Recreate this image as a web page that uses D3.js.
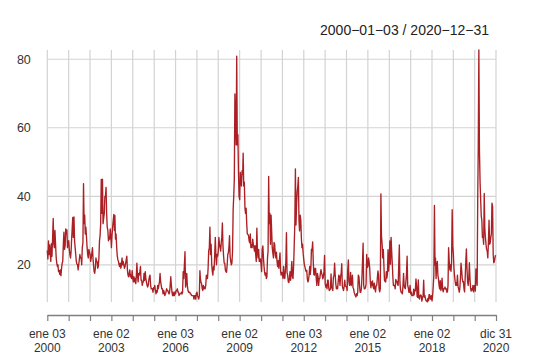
<!DOCTYPE html>
<html>
<head>
<meta charset="utf-8">
<script src="https://cdn.jsdelivr.net/npm/d3@7"></script>
<style>
  body { margin: 0; background: #fff; }
  text { font-family: "Liberation Sans", Arial, sans-serif; }
</style>
</head>
<body>
<script>
// VIX close, three readings per month (early / mid / late)
const vix2000 = [24.2,21.7,27.0, 23.0,25.8,23.1, 21.0,26.2,22.5, 28.0,33.5,26.2, 25.0,30.0,26.1, 22.0,20.5,19.5, 20.0,18.0,18.3, 17.2,18.5,16.8, 19.0,20.5,21.0, 26.0,29.5,24.5, 25.5,30.5,29.0, 30.2,25.0,26.8];
const vix2001 = [27.0,24.5,23.0, 22.0,24.0,28.0, 30.5,33.8,28.0, 34.0,27.0,25.0, 23.0,21.0,20.2, 20.0,18.5,20.0, 21.5,23.0,22.0, 22.0,20.0,25.0, 26.5,43.7,32.0, 34.5,29.0,31.0, 28.0,25.0,23.0, 22.0,24.5,23.8];
const vix2002 = [23.0,21.0,22.0, 23.5,25.0,21.5, 20.0,18.0,17.5, 19.0,22.0,21.0, 21.0,19.0,19.5, 22.0,27.0,28.5, 32.0,44.9,35.0, 45.0,32.0,33.5, 35.0,40.0,40.0, 42.6,35.0,31.0, 30.0,27.0,28.0, 27.5,30.5,28.6];
const vix2003 = [25.0,28.5,31.0, 33.0,34.7,30.0, 34.4,27.5,29.0, 25.0,22.5,21.5, 21.0,20.0,19.5, 20.5,19.0,20.0, 22.0,20.0,21.0, 20.0,19.0,19.5, 20.5,21.5,22.5, 18.5,17.0,16.5, 17.5,18.5,16.5, 17.0,16.0,18.3];
const vix2004 = [16.0,15.0,16.5, 15.0,16.0,14.5, 16.5,20.5,17.0, 15.0,17.5,17.0, 18.0,19.5,15.5, 15.5,14.0,15.0, 15.0,17.5,15.5, 18.0,16.0,15.0, 14.0,13.5,14.0, 15.5,16.5,17.0, 14.0,13.0,13.0, 13.0,12.0,13.3];
const vix2005 = [13.0,14.0,12.5, 11.5,12.5,12.0, 14.0,13.0,14.0, 15.0,17.5,15.0, 14.0,13.0,13.0, 11.5,12.5,12.0, 11.0,11.5,12.0, 13.0,12.5,12.5, 12.0,11.5,12.0, 14.0,16.5,14.0, 12.0,11.0,12.0, 11.0,11.0,12.1];
const vix2006 = [11.5,12.5,12.5, 13.0,12.0,12.0, 11.0,11.5,11.5, 11.5,12.0,11.5, 12.0,18.0,16.0, 20.0,23.8,13.5, 15.0,17.5,14.0, 12.5,12.0,12.0, 12.0,11.5,11.5, 11.0,11.0,11.0, 11.0,10.0,11.0, 11.0,10.0,11.6];
const vix2007 = [12.0,11.0,10.5, 10.0,11.0,18.3, 16.0,15.0,14.5, 13.0,12.5,14.0, 13.0,13.5,13.0, 14.0,17.0,16.0, 16.0,19.0,24.0, 25.0,31.0,23.0, 26.0,20.0,18.0, 17.0,19.5,18.5, 23.0,28.0,23.0, 20.0,23.0,22.5];
const vix2008 = [24.0,28.0,26.0, 25.0,24.0,26.5, 28.0,32.2,25.5, 22.5,20.5,20.5, 18.5,18.0,17.8, 20.0,23.0,23.5, 25.0,28.5,22.5, 21.0,20.0,20.5, 24.0,36.0,40.0, 45.0,69.9,62.0, 55.0,80.9,55.0, 58.0,47.0,40.0];
const vix2009 = [39.0,47.0,44.8, 43.0,47.5,46.4, 52.6,43.0,44.1, 36.5,35.0,36.5, 32.0,29.0,28.9, 28.5,27.0,26.4, 29.0,25.0,25.9, 25.0,27.5,26.0, 25.0,24.0,25.6, 23.0,21.0,30.7, 23.5,22.0,24.5, 21.0,21.0,21.7];
const vix2010 = [20.0,18.0,24.6, 25.5,22.0,19.5, 18.0,17.0,17.6, 16.0,16.5,22.0, 24.0,45.8,32.0, 35.0,26.0,34.5, 30.0,25.0,23.5, 22.0,26.5,26.1, 23.0,22.0,23.7, 21.0,19.5,21.2, 19.0,21.5,23.5, 18.0,17.0,17.8];
const vix2011 = [17.5,16.0,19.5, 16.5,16.0,18.4, 21.0,29.4,17.7, 17.0,15.0,14.8, 16.0,18.0,15.5, 18.0,21.0,16.5, 16.0,19.5,25.3, 32.0,48.0,31.6, 38.0,41.3,42.9, 45.5,33.0,29.9, 34.5,33.0,27.8, 25.0,26.0,23.4];
const vix2012 = [21.5,20.0,19.4, 18.5,18.0,18.4, 16.0,15.0,15.5, 17.0,19.5,17.2, 19.0,24.5,24.1, 26.7,21.0,17.1, 17.0,19.0,18.9, 16.0,14.0,17.5, 16.5,14.0,16.0, 16.0,17.5,18.6, 17.5,17.0,15.9, 16.5,18.0,22.7];
const vix2013 = [14.5,13.5,14.3, 13.0,15.5,15.5, 13.5,12.5,12.7, 13.0,17.3,13.5, 13.0,12.5,16.3, 17.0,20.5,16.9, 14.5,13.0,13.5, 13.0,15.0,17.0, 16.5,14.0,16.6, 17.5,20.3,13.8, 13.0,12.5,13.7, 15.5,13.8,13.7];
const vix2014 = [13.5,12.5,18.4, 21.4,15.0,14.0, 14.5,17.8,13.9, 15.0,17.0,13.4, 13.0,12.0,11.4, 11.0,10.6,11.6, 11.0,12.0,17.0, 16.5,14.0,12.0, 12.0,13.0,16.3, 21.0,26.3,14.0, 13.0,13.0,13.3, 14.5,23.0,19.2];
const vix2015 = [19.5,22.0,21.0, 19.0,15.0,13.3, 15.0,14.0,15.3, 13.5,13.0,14.6, 13.0,12.1,13.8, 14.0,16.0,18.2, 17.0,13.0,12.1, 13.0,40.7,28.4, 26.0,22.0,24.5, 20.0,15.5,15.1, 15.0,18.0,16.1, 17.5,24.4,18.2];
const vix2016 = [21.0,27.0,20.2, 28.0,24.0,20.6, 17.0,14.0,13.9, 14.0,13.0,15.7, 15.0,15.2,14.2, 14.0,20.0,25.8, 15.0,12.8,12.0, 12.0,11.5,13.4, 17.5,14.0,13.3, 13.0,15.0,17.1, 22.5,14.0,13.3, 12.0,12.0,14.0];
const vix2017 = [11.5,12.0,11.0, 11.0,11.0,12.9, 11.2,12.5,12.4, 15.9,14.0,10.8, 10.5,15.6,10.4, 10.0,11.0,11.2, 11.0,9.4,10.3, 11.0,15.5,10.6, 11.0,10.0,9.5, 9.5,9.14,10.2, 9.5,11.3,11.3, 10.0,10.0,11.0];
const vix2018 = [9.5,11.0,13.5, 17.0,37.3,19.9, 22.0,16.0,19.9, 21.0,17.0,15.9, 14.0,13.0,15.4, 12.5,13.5,16.1, 13.0,12.1,13.0, 13.0,13.5,12.9, 13.0,12.0,12.1, 14.0,25.0,21.2, 18.5,20.0,18.1, 21.0,36.1,25.4];
const vix2019 = [23.0,19.0,16.6, 15.0,14.0,14.8, 14.0,17.0,13.7, 13.0,12.0,13.1, 16.0,20.5,18.7, 16.0,15.0,15.1, 13.0,12.1,16.1, 21.0,24.6,19.0, 15.0,14.0,16.2, 20.6,16.0,13.2, 12.3,13.0,12.6, 14.0,12.1,13.8];
const vix2020 = [14.0,12.3,18.8, 16.0,14.0,40.1, 54.5,82.7,53.5, 44.0,39.0,34.2, 33.0,28.0,28.2, 26.0,40.8,30.4, 28.0,26.0,24.5, 24.0,22.0,26.4, 33.0,26.0,26.4, 28.0,29.0,38.0, 37.0,23.0,20.6, 21.0,22.0,22.8];

const yearSeries = [vix2000, vix2001, vix2002, vix2003, vix2004, vix2005, vix2006,
  vix2007, vix2008, vix2009, vix2010, vix2011, vix2012, vix2013, vix2014,
  vix2015, vix2016, vix2017, vix2018, vix2019, vix2020];
const firstYear = 2000;

// first trading day of each year, plus the last date
const tickDates = ["2000-01-03","2001-01-02","2002-01-02","2003-01-02","2004-01-02",
  "2005-01-03","2006-01-03","2007-01-03","2008-01-02","2009-01-02","2010-01-04",
  "2011-01-03","2012-01-03","2013-01-02","2014-01-02","2015-01-02","2016-01-04",
  "2017-01-03","2018-01-02","2019-01-02","2020-01-02","2020-12-31"];
const labelDates = ["2000-01-03","2003-01-02","2006-01-03","2009-01-02","2012-01-03","2015-01-02","2018-01-02","2020-12-31"];
const labelDay = ["ene 03","ene 02","ene 03","ene 02","ene 03","ene 02","ene 02","dic 31"];
const labelYear = ["2000","2003","2006","2009","2012","2015","2018","2020"];
const yTicks = [20, 40, 60, 80];
const title = "2000\u221201\u221203 / 2020\u221212\u221231";

// Set Dimensions
const W = 542, H = 360;
const plotLeft = 47.3, plotRight = 496, plotTop = 50, plotBottom = 302, axisY = 315;

const parse = d3.timeParse("%Y-%m-%d");

const data = [];
yearSeries.forEach((vals, yi) => {
  vals.forEach((v, i) => {
    const m = Math.floor(i / 3), k = i % 3;
    data.push({ date: new Date(firstYear + yi, m, 3 + k * 10), value: v });
  });
});

const x = d3.scaleTime()
  .domain([parse("2000-01-03"), parse("2020-12-31")])
  .range([plotLeft, plotRight]);

const y = d3.scaleLinear()
  .domain(d3.extent(data, d => d.value))
  .range([plotBottom, plotTop]);

const svg = d3.select("body").append("svg")
  .attr("width", W)
  .attr("height", H);

// grid
svg.append("g")
  .selectAll("line")
  .data(tickDates.map(parse))
  .enter().append("line")
  .attr("x1", d => x(d)).attr("x2", d => x(d))
  .attr("y1", plotTop).attr("y2", plotBottom)
  .attr("stroke", "#d3d3d3").attr("stroke-width", 1.2);

svg.append("g")
  .selectAll("line")
  .data(yTicks)
  .enter().append("line")
  .attr("x1", plotLeft).attr("x2", plotRight)
  .attr("y1", d => y(d)).attr("y2", d => y(d))
  .attr("stroke", "#d3d3d3").attr("stroke-width", 1.2);

// series line
svg.append("path")
  .datum(data)
  .attr("fill", "none")
  .attr("stroke", "#ab2024")
  .attr("stroke-width", 1.35)
  .attr("stroke-linejoin", "round")
  .attr("d", d3.line().x(d => x(d.date)).y(d => y(d.value)));

// y labels
const yAxis = svg.append("g")
  .attr("transform", `translate(${plotLeft},0)`)
  .call(d3.axisLeft(y).tickValues(yTicks).tickSize(0).tickPadding(16.5));
yAxis.select(".domain").remove();
yAxis.selectAll("text")
  .attr("font-size", 12.5)
  .attr("font-family", "Liberation Sans, Arial, sans-serif")
  .attr("fill", "#333");

// x axis
const xAxis = svg.append("g")
  .attr("transform", `translate(0,${axisY})`)
  .call(d3.axisBottom(x).tickValues(tickDates.map(parse)).tickSize(6).tickSizeOuter(0).tickFormat(""));
xAxis.select(".domain").attr("stroke", "#7f7f7f").attr("stroke-width", 1.3);
xAxis.selectAll(".tick line").attr("stroke", "#7f7f7f").attr("stroke-width", 1.2);

const labels = svg.append("g")
  .selectAll("text")
  .data(labelDates)
  .enter().append("text")
  .attr("text-anchor", "middle")
  .attr("font-size", 12)
  .attr("fill", "#333");
labels.append("tspan")
  .attr("x", d => x(parse(d))).attr("y", 337.5)
  .text((d, i) => labelDay[i]);
labels.append("tspan")
  .attr("x", d => x(parse(d))).attr("y", 352.3)
  .text((d, i) => labelYear[i]);

// title
svg.append("text")
  .attr("x", 489).attr("y", 35)
  .attr("text-anchor", "end")
  .attr("font-size", 14)
  .attr("fill", "#222")
  .text(title);
</script>
</body>
</html>
